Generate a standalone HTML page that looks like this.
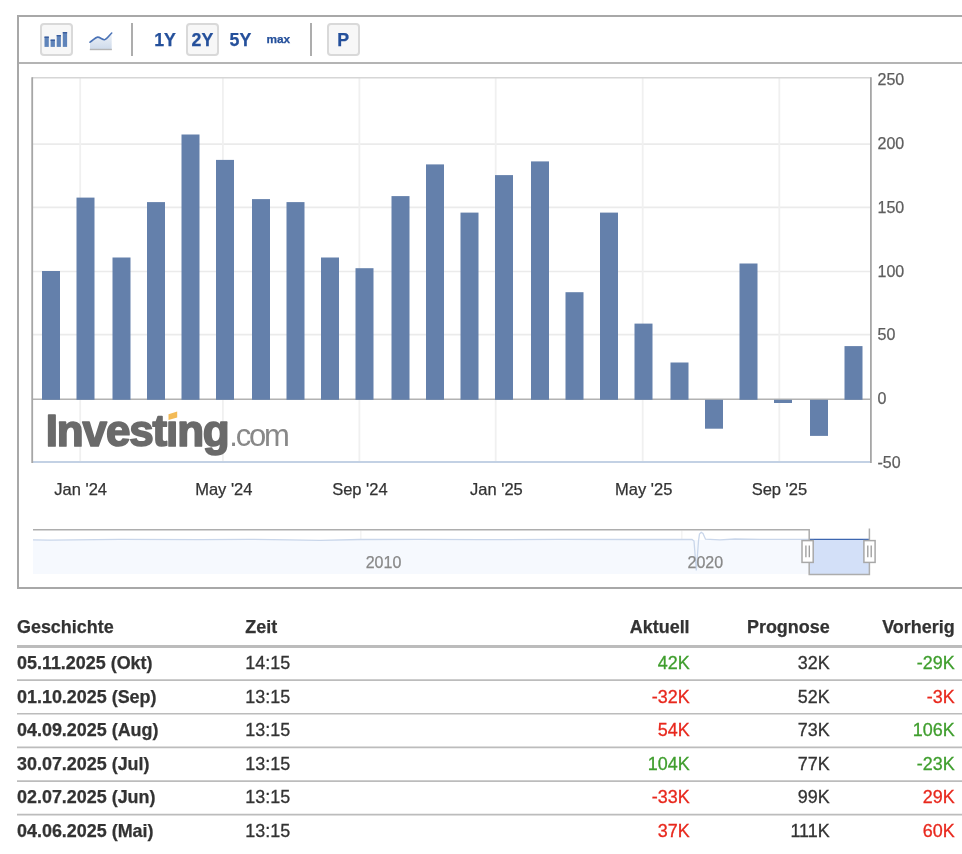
<!DOCTYPE html>
<html><head><meta charset="utf-8"><title>Chart</title>
<style>
html,body{margin:0;padding:0;background:#fff;}
body{will-change:transform;width:962px;height:854px;overflow:hidden;position:relative;font-family:"Liberation Sans",sans-serif;}
#box{position:absolute;left:17px;top:15px;width:960px;height:570px;border:2px solid #a8a8a8;}
#tbline{position:absolute;left:19px;top:62px;width:960px;height:2px;background:#b4b4b4;}
.btn{position:absolute;top:23.3px;height:28.5px;border:2px solid #d9d9d9;border-radius:4px;background:#f7f7f7;}
.sep{position:absolute;top:23px;width:1.8px;height:32.6px;background:#adadad;}
.tt{position:absolute;-webkit-text-stroke:0.25px;color:#25509b;font-weight:bold;font-size:17.76px;line-height:20px;top:29.6px;white-space:nowrap;}
svg{position:absolute;left:0;top:0;}
.gh{stroke:#ebebeb;stroke-width:1.7;}
.gv{stroke:#f0f0f0;stroke-width:1.8;}
.b{fill:#6480ab;}
.yl{font-size:16px;fill:#5e5e5e;stroke:#5e5e5e;stroke-width:0.25px;}
.xl{font-size:16.5px;fill:#333;stroke:#333;stroke-width:0.25px;}
.nl{font-size:16px;fill:#888;stroke:#888;stroke-width:0.25px;}
.lg1{font-size:44px;font-weight:bold;fill:#6a6a6a;letter-spacing:-1.15px;stroke:#6a6a6a;stroke-width:1.7px;stroke-linejoin:round;}
.lg2{font-size:31px;fill:#888;letter-spacing:-2.15px;}
.hd,.row{position:absolute;left:0;width:962px;}
.hd{top:617px;height:28px;-webkit-text-stroke:0.25px;font-weight:bold;font-size:17.93px;line-height:20px;color:#333;}
.hd span{top:0px;}
.row{height:32px;-webkit-text-stroke:0.3px;font-size:17.93px;line-height:20px;color:#333;}
.hd span,.row span{position:absolute;white-space:nowrap;}
.row span{top:4.6px;}
.c1{left:17px;font-weight:bold;-webkit-text-stroke:0.25px;}
.c2{left:245.3px;}
.c3{right:272.4px;}
.c4{right:132.4px;}
.c5{right:7.4px;}
.row .g{color:#3f9e2d;}
.row .r{color:#e8281d;}
</style></head><body>
<div id="box"></div>
<div id="tbline"></div>
<div class="btn" style="left:40.3px;width:28.6px"></div>
<div class="btn" style="left:186.3px;width:28.4px"></div>
<div class="btn" style="left:327.3px;width:28.3px"></div>
<div class="sep" style="left:131.2px"></div>
<div class="sep" style="left:310.2px"></div>
<div class="tt" style="left:154.2px">1Y</div>
<div class="tt" style="left:191.6px">2Y</div>
<div class="tt" style="left:229.6px">5Y</div>
<div class="tt" style="left:266.4px;font-size:11.84px;top:28.6px">max</div>
<div class="tt" style="left:337.2px">P</div>
<svg width="962" height="854" viewBox="0 0 962 854">
<g id="icons">
<defs><linearGradient id="ag" x1="0" y1="0" x2="0" y2="1"><stop offset="0" stop-color="#eef2f8"/><stop offset="1" stop-color="#cfdbeb"/></linearGradient></defs>
<rect x="44.5" y="36.6" width="4.3" height="10.3" fill="#5f84ba"/><rect x="44.5" y="36.6" width="4.3" height="1.4" fill="#3a5d9d"/>
<rect x="50.6" y="39.6" width="4.3" height="7.3" fill="#5f84ba"/><rect x="50.6" y="39.6" width="4.3" height="1.4" fill="#3a5d9d"/>
<rect x="56.7" y="35.0" width="4.2" height="11.9" fill="#5f84ba"/><rect x="56.7" y="35.0" width="4.2" height="1.4" fill="#3a5d9d"/>
<rect x="62.8" y="32.0" width="4.3" height="14.9" fill="#5f84ba"/><rect x="62.8" y="32.0" width="4.3" height="1.4" fill="#3a5d9d"/>
<path d="M90 42.2 C93 40.2 95.5 37.2 97.6 37.1 C100 37 102.5 40 104.6 39.7 C106.5 39.4 109.5 35.2 111.7 33 V48.9 H90 Z" fill="url(#ag)"/>
<path d="M90 42.2 C93 40.2 95.5 37.2 97.6 37.1 C100 37 102.5 40 104.6 39.7 C106.5 39.4 109.5 35.2 111.7 33" fill="none" stroke="#4a72b6" stroke-width="1.6" stroke-linecap="round"/>
<line x1="89.8" y1="49.5" x2="111.9" y2="49.5" stroke="#b5b5b5" stroke-width="1.4"/>
</g>
<line x1="33" y1="144.2" x2="870" y2="144.2" class="gh"/>
<line x1="33" y1="207.3" x2="870" y2="207.3" class="gh"/>
<line x1="33" y1="271.5" x2="870" y2="271.5" class="gh"/>
<line x1="33" y1="334.7" x2="870" y2="334.7" class="gh"/>
<line x1="80.2" y1="78" x2="80.2" y2="461" class="gv"/>
<line x1="222.9" y1="78" x2="222.9" y2="461" class="gv"/>
<line x1="359.4" y1="78" x2="359.4" y2="461" class="gv"/>
<line x1="495.7" y1="78" x2="495.7" y2="461" class="gv"/>
<line x1="642.7" y1="78" x2="642.7" y2="461" class="gv"/>
<line x1="779.3" y1="78" x2="779.3" y2="461" class="gv"/>
<line x1="32" y1="77.8" x2="871" y2="77.8" stroke="#d6d6d6" stroke-width="1.5"/>
<line x1="33" y1="399.25" x2="870" y2="399.25" stroke="#b2b2b2" stroke-width="1.5"/>
<rect x="42.0" y="271.0" width="18.0" height="128.8" class="b"/>
<rect x="76.5" y="197.6" width="18.0" height="202.2" class="b"/>
<rect x="112.5" y="257.5" width="18.0" height="142.3" class="b"/>
<rect x="147.0" y="202.1" width="18.0" height="197.7" class="b"/>
<rect x="181.5" y="134.5" width="18.0" height="265.3" class="b"/>
<rect x="216.0" y="159.9" width="18.0" height="239.9" class="b"/>
<rect x="252.0" y="199.1" width="18.0" height="200.7" class="b"/>
<rect x="286.5" y="202.1" width="18.0" height="197.7" class="b"/>
<rect x="321.0" y="257.5" width="18.0" height="142.3" class="b"/>
<rect x="355.5" y="268.2" width="18.0" height="131.6" class="b"/>
<rect x="391.5" y="196.1" width="18.0" height="203.7" class="b"/>
<rect x="426.0" y="164.4" width="18.0" height="235.4" class="b"/>
<rect x="460.5" y="212.6" width="18.0" height="187.2" class="b"/>
<rect x="495.0" y="175.1" width="18.0" height="224.7" class="b"/>
<rect x="531.0" y="161.4" width="18.0" height="238.4" class="b"/>
<rect x="565.5" y="292.2" width="18.0" height="107.6" class="b"/>
<rect x="600.0" y="212.6" width="18.0" height="187.2" class="b"/>
<rect x="634.5" y="323.6" width="18.0" height="76.2" class="b"/>
<rect x="670.5" y="362.5" width="18.0" height="37.3" class="b"/>
<rect x="705.0" y="399.8" width="18.0" height="28.9" class="b"/>
<rect x="739.5" y="263.5" width="18.0" height="136.3" class="b"/>
<rect x="774.0" y="399.8" width="18.0" height="3.2" class="b"/>
<rect x="810.0" y="399.8" width="18.0" height="36.1" class="b"/>
<rect x="844.5" y="346.1" width="18.0" height="53.7" class="b"/>
<line x1="32" y1="462.0" x2="871" y2="462.0" stroke="#c3d1e4" stroke-width="2"/>
<line x1="32.2" y1="77.3" x2="32.2" y2="463" stroke="#a6a6a6" stroke-width="1.8"/>
<line x1="870.9" y1="77.3" x2="870.9" y2="463" stroke="#a6a6a6" stroke-width="1.8"/>
<text x="877.5" y="84.9" class="yl">250</text>
<text x="877.5" y="148.6" class="yl">200</text>
<text x="877.5" y="212.7" class="yl">150</text>
<text x="877.5" y="276.9" class="yl">100</text>
<text x="877.5" y="339.6" class="yl">50</text>
<text x="877.5" y="403.6" class="yl">0</text>
<text x="877.5" y="467.7" class="yl">-50</text>
<text x="80.7" y="495.2" class="xl" text-anchor="middle">Jan '24</text>
<text x="223.8" y="495.2" class="xl" text-anchor="middle">May '24</text>
<text x="359.9" y="495.2" class="xl" text-anchor="middle">Sep '24</text>
<text x="496.4" y="495.2" class="xl" text-anchor="middle">Jan '25</text>
<text x="643.7" y="495.2" class="xl" text-anchor="middle">May '25</text>
<text x="779.4" y="495.2" class="xl" text-anchor="middle">Sep '25</text>
<text x="45.8" y="445.6" class="lg1">Investıng</text>
<text x="229.2" y="445.7" class="lg2">.com</text>
<polygon points="168.5,414.2 177.2,411.6 177.2,417.5 168.5,419.9" fill="#f3bb58"/>
<line x1="360.8" y1="530.5" x2="360.8" y2="539" stroke="#f3f3f3" stroke-width="1.5"/>
<line x1="681.8" y1="530.5" x2="681.8" y2="539" stroke="#f3f3f3" stroke-width="1.5"/>
<rect x="33" y="540" width="776" height="34" fill="#f6f9fe"/>
<rect x="809.5" y="540" width="59.5" height="34.5" fill="#d3e0f8"/>
<path d="M33 539.8 L50 540.2 L120 539.4 L200 539.6 L250 539.3 L290 539.8 L320 540.3 L360 539.5 L420 539.3 L480 539.6 L560 539.4 L640 539.5 L692 539.5 L694 541 L696.3 570.5 L698.5 541 L699.5 534 L701.2 532.4 L703 533.5 L705.5 539.2 L720 539.8 L735 539.0 L760 539.4 L809 539.3" fill="none" stroke="#c9d6ea" stroke-width="1.3"/>
<line x1="809" y1="539.4" x2="869" y2="539.4" stroke="#3c66b0" stroke-width="1.35"/>
<path d="M33 529.8 H809.2 V574.6 H869.4 V528.5" fill="none" stroke="#adadad" stroke-width="1.5"/>
<text x="383.5" y="567.6" class="nl" text-anchor="middle">2010</text>
<text x="705.3" y="567.6" class="nl" text-anchor="middle">2020</text>
<rect x="802.0" y="540.6" width="11.2" height="21.8" fill="#fff" stroke="#a8a8a8" stroke-width="1.5"/>
<path d="M805.9 545.6 V557.2 M809.3000000000001 545.6 V557.2" stroke="#9a9a9a" stroke-width="1.3" fill="none"/>
<rect x="863.9" y="540.6" width="11.2" height="21.8" fill="#fff" stroke="#a8a8a8" stroke-width="1.5"/>
<path d="M867.8 545.6 V557.2 M871.2 545.6 V557.2" stroke="#9a9a9a" stroke-width="1.3" fill="none"/>
<rect x="17" y="645" width="945" height="3" fill="#bcbcbc"/>
<line x1="17" y1="680.05" x2="962" y2="680.05" stroke="#bcbcbc" stroke-width="1.7"/>
<line x1="17" y1="713.75" x2="962" y2="713.75" stroke="#bcbcbc" stroke-width="1.7"/>
<line x1="17" y1="747.4" x2="962" y2="747.4" stroke="#bcbcbc" stroke-width="1.7"/>
<line x1="17" y1="781.05" x2="962" y2="781.05" stroke="#bcbcbc" stroke-width="1.7"/>
<line x1="17" y1="814.7" x2="962" y2="814.7" stroke="#bcbcbc" stroke-width="1.7"/>
</svg>
<div class="hd"><span class="c1">Geschichte</span><span class="c2">Zeit</span><span class="c3">Aktuell</span><span class="c4">Prognose</span><span class="c5">Vorherig</span></div>
<div id="rows">
<div class="row" style="top:648.00px"><span class="c1">05.11.2025 (Okt)</span><span class="c2">14:15</span><span class="c3 g">42K</span><span class="c4">32K</span><span class="c5 g">-29K</span></div>
<div class="row" style="top:682.50px"><span class="c1">01.10.2025 (Sep)</span><span class="c2">13:15</span><span class="c3 r">-32K</span><span class="c4">52K</span><span class="c5 r">-3K</span></div>
<div class="row" style="top:715.40px"><span class="c1">04.09.2025 (Aug)</span><span class="c2">13:15</span><span class="c3 r">54K</span><span class="c4">73K</span><span class="c5 g">106K</span></div>
<div class="row" style="top:749.10px"><span class="c1">30.07.2025 (Jul)</span><span class="c2">13:15</span><span class="c3 g">104K</span><span class="c4">77K</span><span class="c5 g">-23K</span></div>
<div class="row" style="top:782.70px"><span class="c1">02.07.2025 (Jun)</span><span class="c2">13:15</span><span class="c3 r">-33K</span><span class="c4">99K</span><span class="c5 r">29K</span></div>
<div class="row" style="top:816.40px"><span class="c1">04.06.2025 (Mai)</span><span class="c2">13:15</span><span class="c3 r">37K</span><span class="c4">111K</span><span class="c5 r">60K</span></div>
</div>
</body></html>
